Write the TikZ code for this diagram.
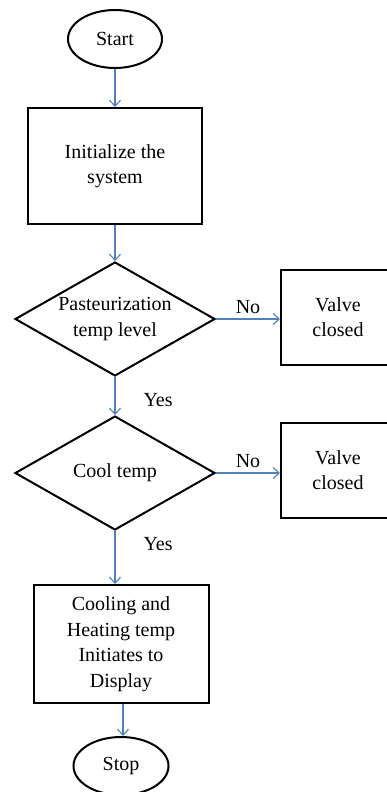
\documentclass[tikz,border=0pt]{standalone}
\usepackage{fontspec}
\setmainfont{Liberation Serif}
\usepackage{tikz}
\usetikzlibrary{positioning,arrows.meta,shapes.geometric}
\definecolor{flowblue}{HTML}{4F81BD}

\begin{document}
\begin{tikzpicture}[
    x=1pt, y=-1pt,
    font=\fontsize{20}{25.5}\selectfont,
    term/.style={draw, ellipse, line width=2pt, minimum width=94pt, minimum height=58pt, inner sep=0pt},
    proc/.style={draw, rectangle, line width=2pt, align=center, inner sep=0pt},
    dec/.style={draw, diamond, aspect=1.75, line width=2pt, minimum width=200pt, minimum height=114pt, inner sep=0pt, align=center},
    arr/.style={-{Straight Barb[length=6pt, width=11pt]}, line width=1.1pt, flowblue},
    lbl/.style={inner sep=0pt, text=black}
  ]
    \useasboundingbox (0,0) rectangle (387,792);
    \clip (0,0) rectangle (387,792);

    \node[term] (start) at (115,39) {Start};
    \node[proc, minimum width=174pt, minimum height=116pt, below=38pt of start] (init) {Initialize the\\system};
    \node[dec, below=36pt of init] (pasteur) {Pasteurization\\temp level};
    \node[dec, below=38pt of pasteur] (cool) {Cool temp};
    \node[proc, minimum width=175pt, minimum height=118pt, below=53pt of cool, xshift=6pt] (display) {Cooling and\\Heating temp\\Initiates to\\Display};
    \node[term, minimum width=95pt, below=32pt of display] (stop) {Stop};

    \node[proc, minimum width=114pt, minimum height=95pt, right=64pt of pasteur, yshift=2pt] (valveA) {Valve\\closed};
    \node[proc, minimum width=114pt, minimum height=95pt, right=64pt of cool, yshift=3pt] (valveB) {Valve\\closed};

    \draw[arr] (start) -- (init);
    \draw[arr] (init) -- (pasteur);
    \draw[arr] (pasteur) -- node[lbl, pos=0.6, right=28pt] {Yes} (cool);
    \draw[arr] (pasteur.east) -- node[lbl, above=5pt] {No} (pasteur.east -| valveA.west);
    \draw[arr] (cool.east) -- node[lbl, above=5pt] {No} (cool.east -| valveB.west);
    \draw[arr] (cool.south) -- node[lbl, pos=0.25, right=28pt] {Yes} (cool.south |- display.north);
    \draw[arr] ([xshift=2pt]display.south) -- ([xshift=2pt]display.south |- stop.north);
\end{tikzpicture}
\end{document}
